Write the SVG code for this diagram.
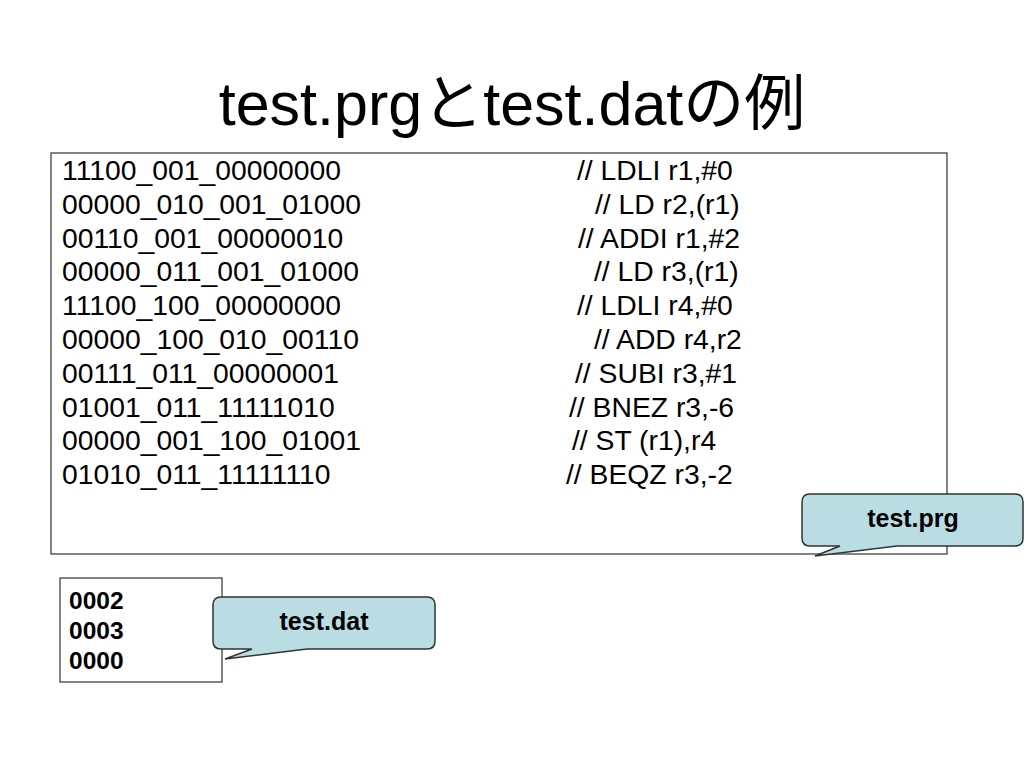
<svg xmlns="http://www.w3.org/2000/svg" width="1024" height="768" viewBox="0 0 1024 768">
<style>
.t{font-family:"Liberation Sans",Arial,"Noto Sans CJK JP",sans-serif;fill:#000}
.code{font-size:28.3px}
.bold{font-weight:bold}
.box{fill:#fff;stroke:#333;stroke-width:1.2}
.call{fill:#b9dde3;stroke:#333;stroke-width:1.5}
</style>
<rect width="1024" height="768" fill="#fff"/>
<text class="t" x="512" y="125" font-size="61" text-anchor="middle">test.prgとtest.datの例</text>
<g id="prg">
<rect class="box" x="51" y="153" width="896" height="401"/>
<g class="t code">
<text x="62" y="180">11100_001_00000000</text>
<text x="62" y="214">00000_010_001_01000</text>
<text x="62" y="248">00110_001_00000010</text>
<text x="62" y="281">00000_011_001_01000</text>
<text x="62" y="315">11100_100_00000000</text>
<text x="62" y="349">00000_100_010_00110</text>
<text x="62" y="383">00111_011_00000001</text>
<text x="62" y="417">01001_011_11111010</text>
<text x="62" y="450">00000_001_100_01001</text>
<text x="62" y="484">01010_011_11111110</text>
<text x="577" y="180">// LDLI r1,#0</text>
<text x="595" y="214">// LD r2,(r1)</text>
<text x="578" y="248">// ADDI r1,#2</text>
<text x="594" y="281">// LD r3,(r1)</text>
<text x="577" y="315">// LDLI r4,#0</text>
<text x="594" y="349">// ADD r4,r2</text>
<text x="575" y="383">// SUBI r3,#1</text>
<text x="569" y="417">// BNEZ r3,-6</text>
<text x="572" y="450">// ST (r1),r4</text>
<text x="566" y="484">// BEQZ r3,-2</text>
</g>
</g>
<g id="dat">
<rect class="box" x="60" y="578" width="162" height="104"/>
<g class="t bold" font-size="24.5">
<text x="69" y="609">0002</text>
<text x="69" y="639">0003</text>
<text x="69" y="669">0000</text>
</g>
</g>
<g id="callout-prg">
<path class="call" d="M810 494 H1015 Q1023 494 1023 502 V538 Q1023 546 1015 546 H897 L815 556 L840 546 H810 Q802 546 802 538 V502 Q802 494 810 494 Z"/>
<text class="t bold" x="913" y="527" font-size="25" text-anchor="middle">test.prg</text>
</g>
<g id="callout-dat">
<path class="call" d="M221 597 H427 Q435 597 435 605 V641 Q435 649 427 649 H307 L225 659 L252 649 H221 Q213 649 213 641 V605 Q213 597 221 597 Z"/>
<text class="t bold" x="324" y="630" font-size="25" text-anchor="middle">test.dat</text>
</g>
</svg>
